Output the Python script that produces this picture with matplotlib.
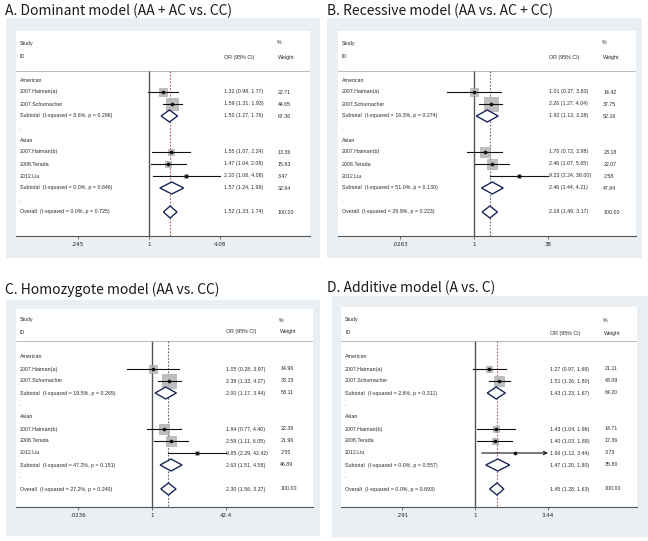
import numpy as np
import matplotlib
matplotlib.use("Agg")
import matplotlib.pyplot as plt
from matplotlib.patches import Polygon
import matplotlib.transforms as mtransforms

W, H = 648, 541

# ---------------- data ----------------
studies = ["2007.Haiman(a)", "2007.Schumacher", "2007.Haiman(b)", "2008.Terada", "2012.Liu"]
groups = ["American", "Asian"]

a_title = "A. Dominant model (AA + AC vs. CC)"
a_or = [1.32, 1.59, 1.55, 1.47, 2.10]
a_lo = [0.98, 1.31, 1.07, 1.04, 1.08]
a_hi = [1.77, 1.93, 2.24, 2.08, 4.08]
a_wt = [22.71, 44.65, 13.36, 15.83, 3.47]
a_sub_or = [1.50, 1.57]
a_sub_lo = [1.27, 1.24]
a_sub_hi = [1.76, 1.99]
a_sub_wt = [67.36, 32.64]
a_sub_het = ["8.6%, p = 0.296", "0.0%, p = 0.646"]
a_all = [1.52, 1.33, 1.74]
a_all_het = "0.0%, p = 0.725"
a_ticks = [0.245, 1, 4.08]
a_ticklabels = [".245", "1", "4.08"]

b_title = "B. Recessive model (AA vs. AC + CC)"
b_or = [1.01, 2.26, 1.70, 2.46, 9.23]
b_lo = [0.27, 1.27, 0.72, 1.07, 2.24]
b_hi = [3.83, 4.04, 3.98, 5.65, 38.00]
b_wt = [14.42, 37.75, 23.18, 22.07, 2.58]
b_sub_or = [1.92, 2.46]
b_sub_lo = [1.12, 1.44]
b_sub_hi = [3.28, 4.21]
b_sub_wt = [52.16, 47.84]
b_sub_het = ["16.3%, p = 0.274", "51.0%, p = 0.130"]
b_all = [2.18, 1.49, 3.17]
b_all_het = "29.9%, p = 0.223"
b_ticks = [0.0263, 1, 38]
b_ticklabels = [".0263", "1", "38"]

c_title = "C. Homozygote model (AA vs. CC)"
c_or = [1.05, 2.38, 1.84, 2.59, 9.85]
c_lo = [0.28, 1.33, 0.77, 1.11, 2.29]
c_hi = [3.97, 4.27, 4.40, 6.05, 42.42]
c_wt = [14.96, 38.15, 22.39, 21.96, 2.55]
c_sub_or = [2.00, 2.63]
c_sub_lo = [1.17, 1.51]
c_sub_hi = [3.44, 4.58]
c_sub_wt = [53.11, 46.89]
c_sub_het = ["19.5%, p = 0.265", "47.2%, p = 0.151"]
c_all = [2.30, 1.56, 3.37]
c_all_het = "27.2%, p = 0.240"
c_ticks = [0.0236, 1, 42.4]
c_ticklabels = [".0236", "1", "42.4"]

d_title = "D. Additive model (A vs. C)"
d_or = [1.27, 1.51, 1.43, 1.40, 1.96]
d_lo = [0.97, 1.26, 1.04, 1.03, 1.12]
d_hi = [1.68, 1.80, 1.96, 1.88, 3.44]
d_wt = [21.11, 43.09, 14.71, 17.36, 3.73]
d_sub_or = [1.43, 1.47]
d_sub_lo = [1.23, 1.20]
d_sub_hi = [1.67, 1.80]
d_sub_wt = [64.20, 35.80]
d_sub_het = ["2.6%, p = 0.311", "0.0%, p = 0.557"]
d_all = [1.45, 1.28, 1.63]
d_all_het = "0.0%, p = 0.693"
d_ticks = [0.291, 1, 3.44]
d_ticklabels = [".291", "1", "3.44"]

# ---------------- layout (pixels) ----------------
panels = [
    dict(title=a_title, orv=a_or, lo=a_lo, hi=a_hi, wt=a_wt, sor=a_sub_or, slo=a_sub_lo, shi=a_sub_hi,
         swt=a_sub_wt, shet=a_sub_het, allv=a_all, allhet=a_all_het, ticks=a_ticks, tl=a_ticklabels,
         tpos=(5, 11), gray=(6, 18, 320, 258), white=(16, 31, 310, 236), one=149, tickpx=220,
         r0=80, s=12, hdr=(43, 57, 71), k=1.65, refc="#b05a5a", arrow=False),
    dict(title=b_title, orv=b_or, lo=b_lo, hi=b_hi, wt=b_wt, sor=b_sub_or, slo=b_sub_lo, shi=b_sub_hi,
         swt=b_sub_wt, shet=b_sub_het, allv=b_all, allhet=b_all_het, ticks=b_ticks, tl=b_ticklabels,
         tpos=(327, 11), gray=(327, 18, 642, 258), white=(338, 31, 636, 236), one=474, tickpx=548,
         r0=80, s=12, hdr=(43, 57, 71), k=2.2, refc="#666666", arrow=False),
    dict(title=c_title, orv=c_or, lo=c_lo, hi=c_hi, wt=c_wt, sor=c_sub_or, slo=c_sub_lo, shi=c_sub_hi,
         swt=c_sub_wt, shet=c_sub_het, allv=c_all, allhet=c_all_het, ticks=c_ticks, tl=c_ticklabels,
         tpos=(5, 290), gray=(6, 300, 320, 536), white=(16, 309, 313, 507), one=152, tickpx=226,
         r0=357, s=12, hdr=(320, 332, 341), k=2.3, refc="#666666", arrow=False),
    dict(title=d_title, orv=d_or, lo=d_lo, hi=d_hi, wt=d_wt, sor=d_sub_or, slo=d_sub_lo, shi=d_sub_hi,
         swt=d_sub_wt, shet=d_sub_het, allv=d_all, allhet=d_all_het, ticks=d_ticks, tl=d_ticklabels,
         tpos=(327, 288), gray=(332, 296, 648, 537), white=(341, 307, 637, 507), one=475, tickpx=548,
         r0=357, s=12, hdr=(320, 333, 341), k=1.5, refc="#b05a5a", arrow=True),
]

TXT = dict(fontsize=3.8, color="#2a2a2a", family="Liberation Sans", va="center")

fig = plt.figure(figsize=(6.48, 5.41), dpi=100)
fig.patch.set_facecolor("white")


def fmt(o, l, h):
    return f"{o:.2f} ({l:.2f}, {h:.2f})"


for p in panels:
    gx0, gy0, gx1, gy1 = p["gray"]
    bg = fig.add_axes([gx0 / W, 1 - gy1 / H, (gx1 - gx0) / W, (gy1 - gy0) / H], zorder=-5)
    bg.set_facecolor("#e9eff2")
    bg.set_xticks([]); bg.set_yticks([])
    for sp in bg.spines.values():
        sp.set_visible(False)
    fig.text(p["tpos"][0] / W, 1 - p["tpos"][1] / H, p["title"], fontsize=10,
             family=["Noto Sans CJK SC", "DejaVu Sans"],
             color="#1a1a1a", va="center", ha="left")

    wx0, wy0, wx1, wy1 = p["white"]
    ax = fig.add_axes([wx0 / W, 1 - wy1 / H, (wx1 - wx0) / W, (wy1 - wy0) / H], zorder=1)
    ax.set_facecolor("white")
    ax.set_xscale("log")
    ppl = (p["tickpx"] - p["one"]) / np.log(p["ticks"][-1])
    ax.set_xlim(np.exp(-(p["one"] - wx0) / ppl), np.exp((wx1 - p["one"]) / ppl))
    r0, s = p["r0"], p["s"]
    ybot, ytop = (wy1 - r0) / s, (wy0 - r0) / s
    ax.set_ylim(ybot, ytop)
    for sp in ["top", "left", "right"]:
        ax.spines[sp].set_visible(False)
    ax.spines["bottom"].set_color("#555555")
    ax.spines["bottom"].set_linewidth(0.8)
    ax.set_yticks([])
    ax.set_xticks(p["ticks"])
    ax.set_xticklabels(p["tl"])
    ax.minorticks_off()
    ax.tick_params(axis="x", length=2.5, width=0.6, color="#555555", labelsize=4, pad=2,
                   labelcolor="#222222")

    tr = mtransforms.blended_transform_factory(ax.transAxes, ax.transData)
    xl = 4 / (wx1 - wx0)
    xor_ = 0.707
    xw = 0.89

    study_r, id_r, sep_r = [(v - r0) / s for v in p["hdr"]]
    ax.text(xl, study_r, "Study", transform=tr, **TXT)
    ax.text(xl, id_r, "ID", transform=tr, **TXT)
    ax.text(xor_, id_r, "OR (95% CI)", transform=tr, **TXT)
    ax.text(xw - 0.004, study_r, "%", transform=tr, **TXT)
    ax.text(xw, id_r, "Weight", transform=tr, **TXT)
    ax.axhline(sep_r, color="#b0b0b0", lw=0.6)

    ax.vlines(1, sep_r, ybot, color="#555555", lw=1.0, zorder=2)
    ax.vlines(p["allv"][0], sep_r, ybot, color=p["refc"], lw=0.8, linestyles=(0, (1.5, 1.5)), zorder=2)

    si = 0
    row = 0
    for g in range(2):
        ax.text(xl, row, groups[g], transform=tr, **TXT)
        row += 1
        n = 2 if g == 0 else 3
        for _ in range(n):
            o, l, h, w = p["orv"][si], p["lo"][si], p["hi"][si], p["wt"][si]
            ax.text(xl, row, studies[si], transform=tr, **TXT)
            ax.text(xor_, row, fmt(o, l, h), transform=tr, **TXT)
            ax.text(xw, row, f"{w:.2f}", transform=tr, **TXT)
            side = p["k"] * np.sqrt(w) * 0.72
            ax.plot([o], [row], marker="s", ms=side, mfc="#b8b8b8", mec="#9a9a9a", mew=0.4,
                    alpha=0.9, zorder=3)
            if p["arrow"] and si == 4:
                ax.annotate("", xy=(h, row), xytext=(l, row),
                            arrowprops=dict(arrowstyle="->", lw=0.8, color="#111111",
                                            shrinkA=0, shrinkB=0, mutation_scale=6), zorder=4)
            else:
                ax.plot([l, h], [row, row], color="#111111", lw=0.8, zorder=4)
            ax.plot([o], [row], marker="o", ms=1.6, color="#111111", zorder=5)
            si += 1
            row += 1
        so, sl, sh = p["sor"][g], p["slo"][g], p["shi"][g]
        ax.text(xl, row, f"Subtotal  (I-squared = {p['shet'][g]})", transform=tr, **TXT)
        ax.text(xor_, row, fmt(so, sl, sh), transform=tr, **TXT)
        ax.text(xw, row, f"{p['swt'][g]:.2f}", transform=tr, **TXT)
        ax.add_patch(Polygon([(sl, row), (so, row - 0.5), (sh, row), (so, row + 0.5)], closed=True,
                             facecolor="white", edgecolor="#1c2757", lw=1.0, zorder=4))
        row += 1
        ax.text(xl, row, ".", transform=tr, **TXT)
        row += 1
    o, l, h = p["allv"]
    ax.text(xl, row, f"Overall  (I-squared = {p['allhet']})", transform=tr, **TXT)
    ax.text(xor_, row, fmt(o, l, h), transform=tr, **TXT)
    ax.text(xw, row, "100.00", transform=tr, **TXT)
    ax.add_patch(Polygon([(l, row), (o, row - 0.5), (h, row), (o, row + 0.5)], closed=True,
                         facecolor="white", edgecolor="#1c2757", lw=1.0, zorder=4))

fig.savefig("out.png", dpi=100, facecolor="white")
